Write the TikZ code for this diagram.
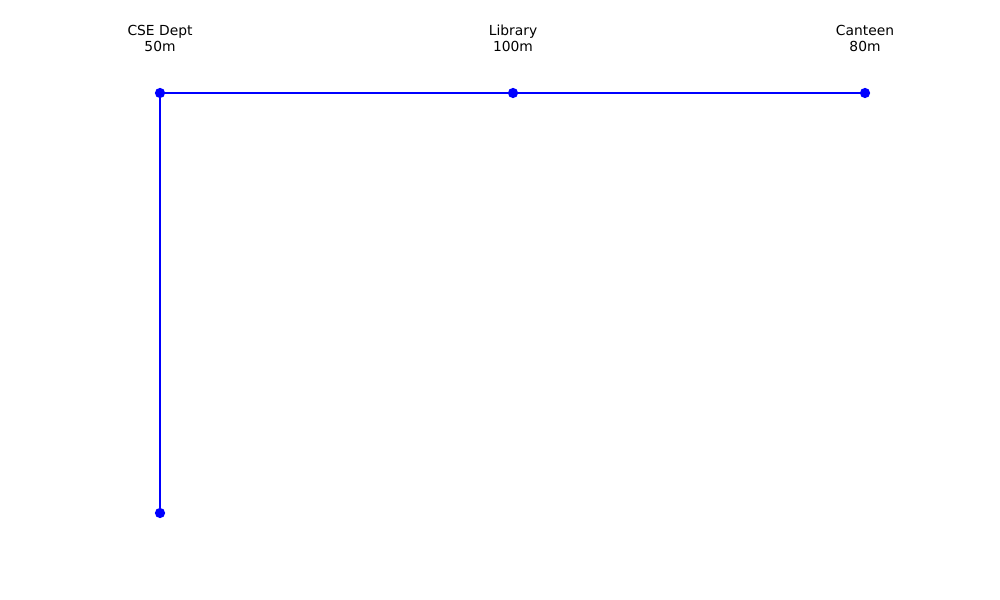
\documentclass[tikz,border=0pt]{standalone}
\usepackage{fontspec}
\setmainfont{DejaVu Sans}
\usetikzlibrary{positioning}
\definecolor{pathblue}{RGB}{0,0,255}
\tikzset{
  dot/.style={circle, fill=pathblue, inner sep=0pt, minimum size=7.4pt},
  route/.style={draw=pathblue, line width=1.5pt},
  place/.style={align=center, font=\fontsize{10}{11.5}\selectfont, inner sep=0pt}
}

\begin{document}
\begin{tikzpicture}[x=0.254mm, y=-0.254mm]
    \useasboundingbox (0,0) rectangle (1000,600);
    \node[dot] (cse) at (160,93) {};
    \node[dot] (lib) at (513,93) {};
    \node[dot] (canteen) at (865,93) {};
    \node[dot] (gate) at (160,513) {};
    \draw[route] (cse) -- (lib);
    \draw[route] (lib) -- (canteen);
    \draw[route] (cse) -- (gate);
    \node[place] (cselbl) at (160,38.5) {CSE Dept\\50m};
    \node[place] (liblbl) at (513,38.5) {Library\\100m};
    \node[place] (canteenlbl) at (865,38.5) {Canteen\\80m};
\end{tikzpicture}
\end{document}
